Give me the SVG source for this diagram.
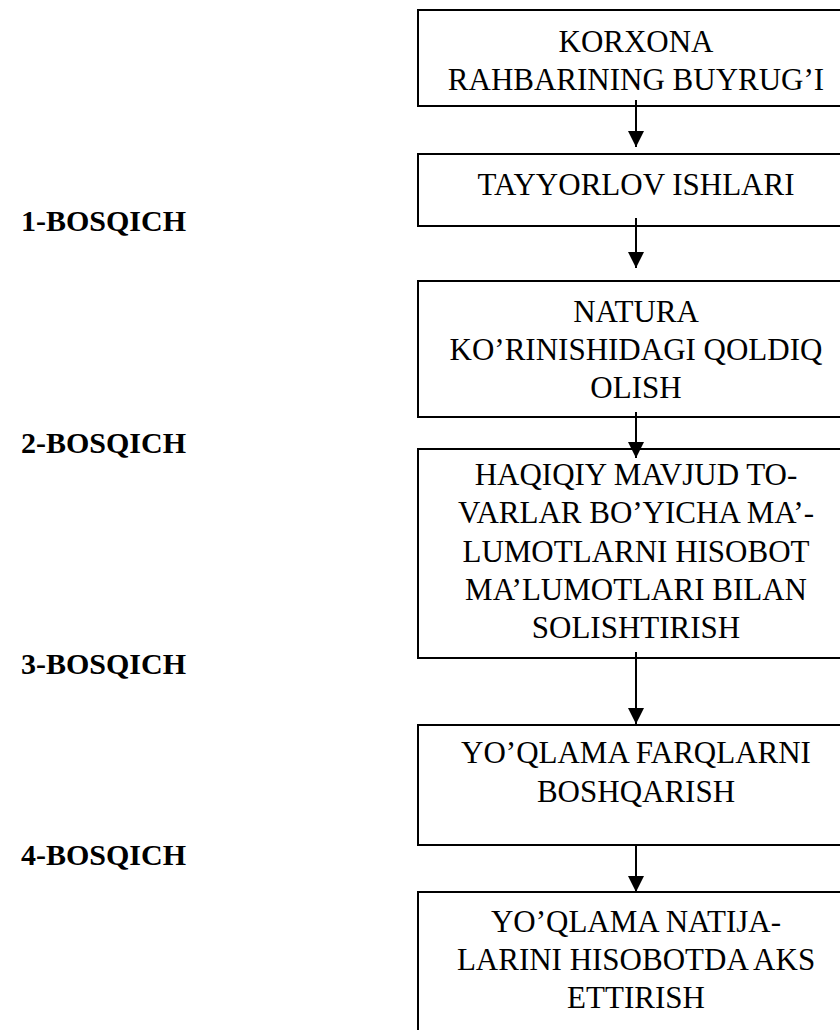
<svg xmlns="http://www.w3.org/2000/svg" width="840" height="1030" viewBox="0 0 840 1030">
  <defs>
    <style>
      .box { fill: #ffffff; stroke: #000000; stroke-width: 2; }
      .t { font-family: "Liberation Serif", "Times New Roman", serif; font-size: 31px; fill: #000000; text-anchor: middle; }
      .lbl { font-family: "Liberation Serif", "Times New Roman", serif; font-size: 30px; font-weight: bold; fill: #000000; text-anchor: end; }
      .link { stroke: #000000; stroke-width: 2; fill: none; marker-end: url(#arrow); }
    </style>
    <marker id="arrow" viewBox="0 0 16 16" refX="16" refY="8" markerWidth="16" markerHeight="16" markerUnits="userSpaceOnUse" orient="auto">
      <path d="M0,0 L16,8 L0,16 Z" fill="#000000"/>
    </marker>
  </defs>
  <rect width="840" height="1030" fill="#ffffff"/>

  <!-- stage labels, right-aligned in the left margin -->
  <g id="stage-labels">
    <text class="lbl" x="186" y="231">1-BOSQICH</text>
    <text class="lbl" x="186" y="453">2-BOSQICH</text>
    <text class="lbl" x="186" y="674">3-BOSQICH</text>
    <text class="lbl" x="186" y="865">4-BOSQICH</text>
  </g>

  <g id="node-buyruq">
    <rect class="box" x="418" y="10" width="436" height="96"/>
    <text class="t" x="636" y="52">KORXONA</text>
    <text class="t" x="636" y="90">RAHBARINING BUYRUG’I</text>
  </g>

  <g id="node-tayyorlov">
    <rect class="box" x="418" y="154" width="436" height="72"/>
    <text class="t" x="636" y="195">TAYYORLOV ISHLARI</text>
  </g>

  <g id="node-natura">
    <rect class="box" x="418" y="281" width="436" height="136"/>
    <text class="t" x="636" y="322">NATURA</text>
    <text class="t" x="636" y="360">KO’RINISHIDAGI QOLDIQ</text>
    <text class="t" x="636" y="398">OLISH</text>
  </g>

  <g id="node-solishtirish">
    <rect class="box" x="418" y="449" width="436" height="209"/>
    <text class="t" x="636" y="485">HAQIQIY MAVJUD TO-</text>
    <text class="t" x="636" y="523">VARLAR BO’YICHA MA’-</text>
    <text class="t" x="636" y="562">LUMOTLARNI HISOBOT</text>
    <text class="t" x="636" y="600">MA’LUMOTLARI BILAN</text>
    <text class="t" x="636" y="638">SOLISHTIRISH</text>
  </g>

  <g id="node-farqlar">
    <rect class="box" x="418" y="725" width="436" height="120"/>
    <text class="t" x="636" y="763">YO’QLAMA FARQLARNI</text>
    <text class="t" x="636" y="802">BOSHQARISH</text>
  </g>

  <g id="node-natijalar">
    <rect class="box" x="418" y="892" width="436" height="160"/>
    <text class="t" x="636" y="932">YO’QLAMA NATIJA-</text>
    <text class="t" x="636" y="970">LARINI HISOBOTDA AKS</text>
    <text class="t" x="636" y="1008">ETTIRISH</text>
  </g>

  <g id="connectors">
    <line class="link" x1="636" y1="100" x2="636" y2="147"/>
    <line class="link" x1="636" y1="218" x2="636" y2="268"/>
    <line class="link" x1="636" y1="412" x2="636" y2="458"/>
    <line class="link" x1="636" y1="652" x2="636" y2="724"/>
    <line class="link" x1="636" y1="845" x2="636" y2="892"/>
  </g>
</svg>
